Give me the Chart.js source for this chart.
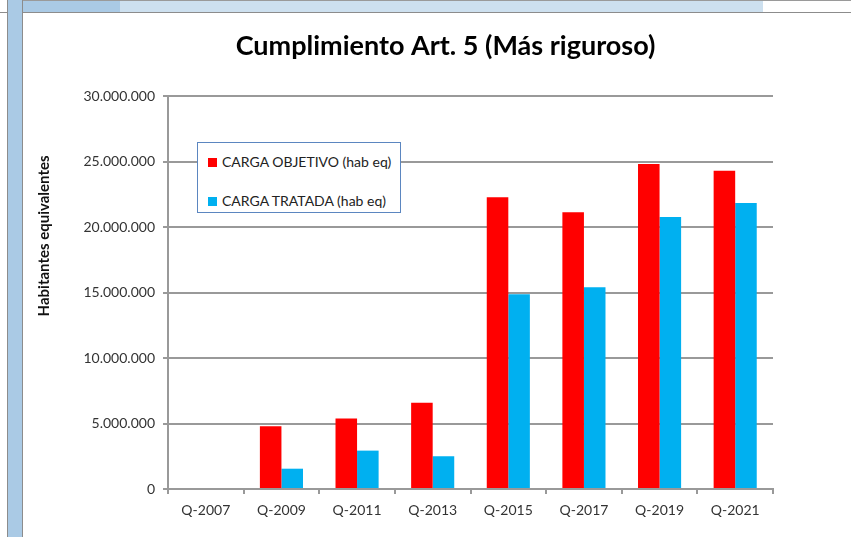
<!DOCTYPE html>
<html>
<head>
<meta charset="utf-8">
<script src="https://cdn.jsdelivr.net/npm/chart.js@4"></script>
<style>
  html,body{margin:0;padding:0;width:851px;height:537px;overflow:hidden;background:#fff;}
  #strip{position:absolute;left:7px;top:0;width:14px;height:537px;background:#aacae5;border-left:1px solid #8c8c8c;border-right:1px solid #8c8c8c;}
  #topbar{position:absolute;left:23px;top:0;width:828px;height:11px;border-top:1px solid #9a9a9a;border-bottom:1px solid #8c8c8c;
    background:linear-gradient(to right,#aacae5 0,#aacae5 97px,#cde0ef 97px,#cde0ef 740px,#ffffff 740px);}
  #tl{position:absolute;left:0;top:12px;width:7px;height:1px;background:#8c8c8c;}
  #wrap{position:absolute;left:23px;top:13px;width:845px;height:524px;}
  #legend{position:absolute;left:197px;top:142px;width:202px;height:69px;border:1px solid #5b86c0;background:#fff;
    font-family:Lato,"Liberation Sans",sans-serif;font-size:14px;color:#222;}
  .li{position:absolute;left:10px;height:18px;line-height:18px;white-space:nowrap;}
  .sw{display:inline-block;width:9px;height:9px;margin-right:5px;vertical-align:0px;}
</style>
</head>
<body>
<div id="strip"></div>
<div id="topbar"></div>
<div id="tl"></div>
<div id="wrap"><canvas id="c" width="845" height="524"></canvas></div>
<div id="legend"></div>
<script>
const categories = ["Q-2007","Q-2009","Q-2011","Q-2013","Q-2015","Q-2017","Q-2019","Q-2021"];
const cargaObjetivo = [0, 4790000, 5380000, 6580000, 22270000, 21120000, 24800000, 24290000];
const cargaTratada  = [0, 1550000, 2930000, 2500000, 14870000, 15400000, 20760000, 21830000];
const seriesLabels = ["CARGA OBJETIVO (hab eq)", "CARGA TRATADA (hab eq)"];
const seriesColors = ["#ff0000", "#00b0f0"];
const yTicks = [0, 5000000, 10000000, 15000000, 20000000, 25000000, 30000000];
const titleText = "Cumplimiento Art. 5 (Más riguroso)";
const yTitle = "Habitantes equivalentes";

function fmt(v){ return String(Math.round(v)).replace(/\B(?=(\d{3})+(?!\d))/g, "."); }

const FONT = 'Lato, "Liberation Sans", sans-serif';
const textColor = '#333333';
const gridColor = '#999999';

const textPlugin = {
  id: 'texts',
  afterDraw(chart){
    const ctx = chart.ctx, a = chart.chartArea;
    ctx.save();
    ctx.font = 'bold 27px ' + FONT;
    ctx.fillStyle = '#000';
    ctx.textAlign = 'center';
    ctx.textBaseline = 'middle';
    ctx.fillText(titleText, chart.width / 2, 33);
    ctx.restore();
    ctx.save();
    ctx.font = 'bold 15px ' + FONT;
    ctx.fillStyle = '#111';
    ctx.textAlign = 'center';
    ctx.textBaseline = 'middle';
    ctx.translate(21, a.top + 0.356 * (a.bottom - a.top));
    ctx.rotate(-Math.PI/2);
    ctx.fillText(yTitle, 0, 0);
    ctx.restore();
  }
};

const chart = new Chart(document.getElementById('c'), {
  type: 'bar',
  data: {
    labels: categories,
    datasets: [
      {label: seriesLabels[0], data: cargaObjetivo, backgroundColor: seriesColors[0], borderWidth: 0},
      {label: seriesLabels[1], data: cargaTratada, backgroundColor: seriesColors[1], borderWidth: 0}
    ]
  },
  options: {
    responsive: false,
    animation: false,
    devicePixelRatio: 1,
    layout: {padding: {left: 0, right: 95, top: 83, bottom: 0}},
    datasets: {bar: {categoryPercentage: 0.57, barPercentage: 1.0}},
    plugins: {
      legend: {display: false},
      tooltip: {enabled: false},
      title: {display: false}
    },
    scales: {
      x: {
        grid: {display: true, drawOnChartArea: false, drawTicks: true, tickLength: 5, color: gridColor, lineWidth: 2, offset: true},
        border: {display: true, color: gridColor, width: 2},
        ticks: {color: textColor, font: {family: FONT, size: 14}, padding: 8, maxRotation: 0},
        afterFit(s){ s.height = 48; }
      },
      y: {
        min: 0, max: 30000000,
        afterBuildTicks(s){ s.ticks = yTicks.map(v => ({value: v})); },
        grid: {color: gridColor, lineWidth: 2, drawTicks: true, tickLength: 5},
        border: {display: true, color: gridColor, width: 2},
        ticks: {color: textColor, font: {family: FONT, size: 14}, padding: 8, callback: v => fmt(v)},
        afterFit(s){ s.width = 145; }
      }
    }
  },
  plugins: [textPlugin]
});

const lg = document.getElementById('legend');
seriesLabels.forEach((lab, i) => {
  const d = document.createElement('div');
  d.className = 'li';
  d.style.top = (i === 0 ? 10 : 49) + 'px';
  d.innerHTML = '<span class="sw" style="background:' + seriesColors[i] + '"></span>' + lab;
  lg.appendChild(d);
});
</script>
</body>
</html>
